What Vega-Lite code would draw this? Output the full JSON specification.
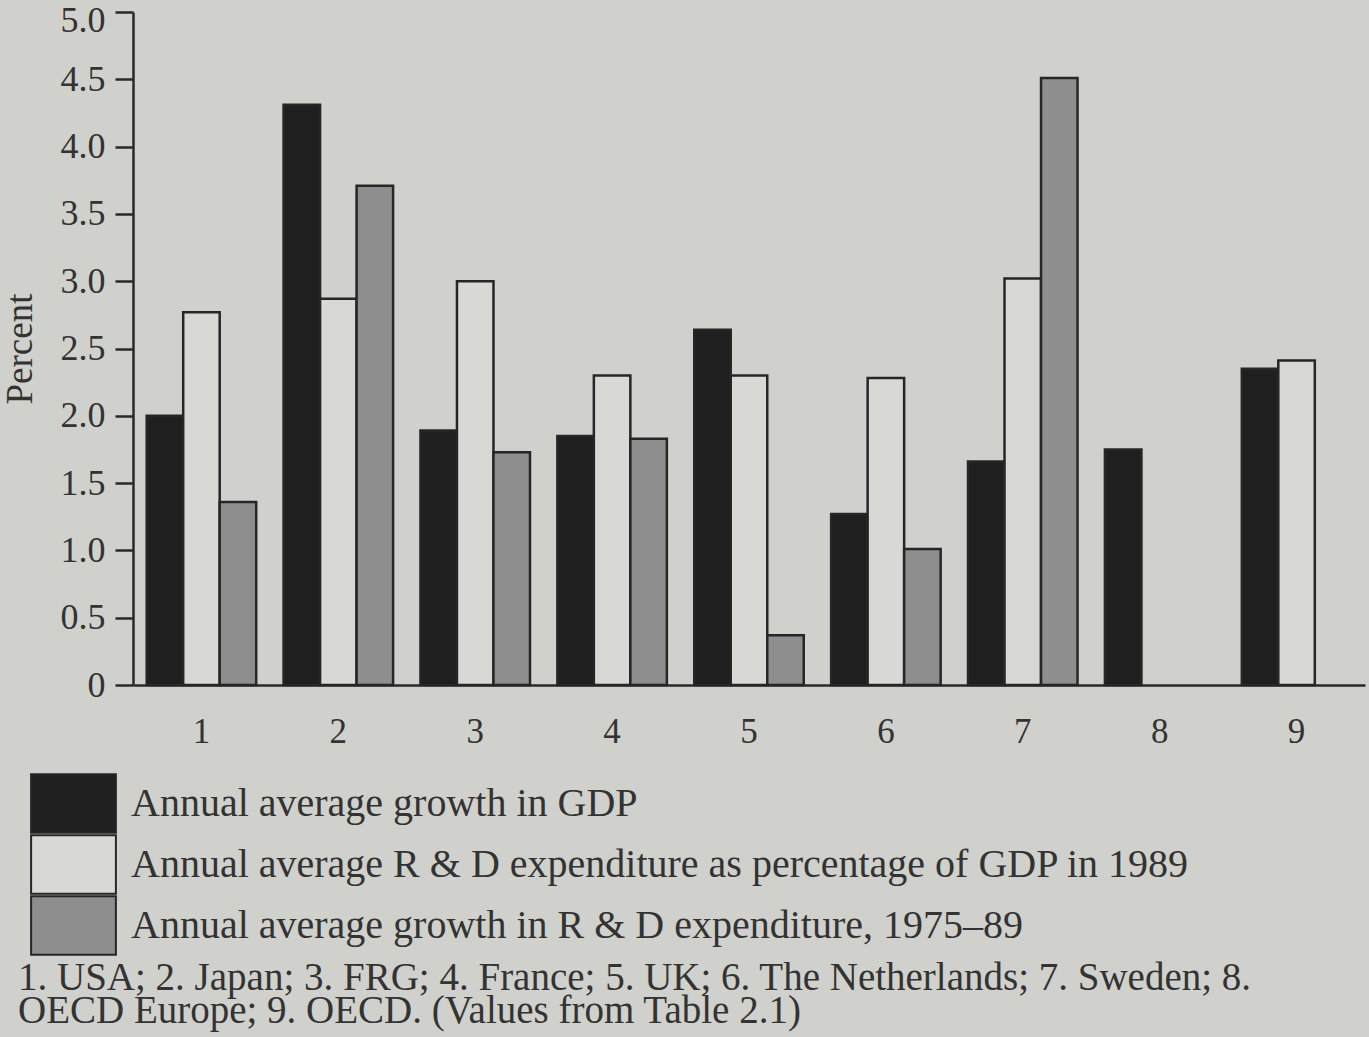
{
  "$schema": "https://vega.github.io/schema/vega-lite/v6.json",
  "width": 1232,
  "height": 673,
  "autosize": {"type": "none"},
  "padding": {"left": 133, "top": 12, "right": 4, "bottom": 352},
  "background": "#d0d1cc",
  "config": {
    "font": "Liberation Serif",
    "view": {"stroke": null},
    "axis": {"labelColor": "#333333", "titleColor": "#333333", "domainColor": "#2a2a2a", "tickColor": "#2a2a2a", "grid": false}
  },
  "title": {
    "text": ["1. USA; 2. Japan; 3. FRG; 4. France; 5. UK; 6. The Netherlands; 7. Sweden; 8.", "OECD Europe; 9. OECD. (Values from Table 2.1)"],
    "orient": "bottom",
    "anchor": "start",
    "frame": "group",
    "dx": -115,
    "offset": 0,
    "fontSize": 39,
    "fontWeight": "normal",
    "lineHeight": 33,
    "color": "#333333",
    "font": "Liberation Serif"
  },
  "data": {
    "values": [
      {"group": "1", "series": "Annual average growth in GDP", "value": 2.0},
      {"group": "1", "series": "Annual average R & D expenditure as percentage of GDP in 1989", "value": 2.77},
      {"group": "1", "series": "Annual average growth in R & D expenditure, 1975–89", "value": 1.36},
      {"group": "2", "series": "Annual average growth in GDP", "value": 4.31},
      {"group": "2", "series": "Annual average R & D expenditure as percentage of GDP in 1989", "value": 2.87},
      {"group": "2", "series": "Annual average growth in R & D expenditure, 1975–89", "value": 3.71},
      {"group": "3", "series": "Annual average growth in GDP", "value": 1.89},
      {"group": "3", "series": "Annual average R & D expenditure as percentage of GDP in 1989", "value": 3.0},
      {"group": "3", "series": "Annual average growth in R & D expenditure, 1975–89", "value": 1.73},
      {"group": "4", "series": "Annual average growth in GDP", "value": 1.85},
      {"group": "4", "series": "Annual average R & D expenditure as percentage of GDP in 1989", "value": 2.3},
      {"group": "4", "series": "Annual average growth in R & D expenditure, 1975–89", "value": 1.83},
      {"group": "5", "series": "Annual average growth in GDP", "value": 2.64},
      {"group": "5", "series": "Annual average R & D expenditure as percentage of GDP in 1989", "value": 2.3},
      {"group": "5", "series": "Annual average growth in R & D expenditure, 1975–89", "value": 0.37},
      {"group": "6", "series": "Annual average growth in GDP", "value": 1.27},
      {"group": "6", "series": "Annual average R & D expenditure as percentage of GDP in 1989", "value": 2.28},
      {"group": "6", "series": "Annual average growth in R & D expenditure, 1975–89", "value": 1.01},
      {"group": "7", "series": "Annual average growth in GDP", "value": 1.66},
      {"group": "7", "series": "Annual average R & D expenditure as percentage of GDP in 1989", "value": 3.02},
      {"group": "7", "series": "Annual average growth in R & D expenditure, 1975–89", "value": 4.51},
      {"group": "8", "series": "Annual average growth in GDP", "value": 1.75},
      {"group": "9", "series": "Annual average growth in GDP", "value": 2.35},
      {"group": "9", "series": "Annual average R & D expenditure as percentage of GDP in 1989", "value": 2.41}
    ]
  },
  "mark": {"type": "bar", "stroke": "#262626", "strokeWidth": 2.5},
  "encoding": {
    "x": {
      "field": "group",
      "type": "nominal",
      "scale": {"paddingInner": 0.2, "paddingOuter": 0.1},
      "axis": {"title": null, "labelAngle": 0, "labelFontSize": 35, "ticks": false, "labelPadding": 29, "domainWidth": 2.5}
    },
    "xOffset": {
      "field": "series",
      "type": "nominal",
      "sort": ["Annual average growth in GDP", "Annual average R & D expenditure as percentage of GDP in 1989", "Annual average growth in R & D expenditure, 1975–89"],
      "scale": {"domain": ["Annual average growth in GDP", "Annual average R & D expenditure as percentage of GDP in 1989", "Annual average growth in R & D expenditure, 1975–89"], "paddingInner": 0, "paddingOuter": 0}
    },
    "y": {
      "field": "value",
      "type": "quantitative",
      "scale": {"domain": [0, 5], "nice": false},
      "axis": {
        "title": "Percent",
        "titleFontSize": 37,
        "titleFontWeight": "normal",
        "titlePadding": 21,
        "values": [0, 0.5, 1, 1.5, 2, 2.5, 3, 3.5, 4, 4.5, 5],
        "labelExpr": "datum.value == 0 ? '0' : format(datum.value, '.1f')",
        "labelFontSize": 36,
        "labelPadding": 10,
        "labelOffset": {"condition": {"test": "datum.value == 5", "value": 8}, "value": 0},
        "tickSize": 18,
        "tickWidth": 2.5,
        "domainWidth": 2.5
      }
    },
    "fill": {
      "field": "series",
      "type": "nominal",
      "scale": {
        "domain": ["Annual average growth in GDP", "Annual average R & D expenditure as percentage of GDP in 1989", "Annual average growth in R & D expenditure, 1975–89"],
        "range": ["#1f1f1f", "#d8d9d5", "#8e8e8e"]
      },
      "legend": {
        "title": null,
        "orient": "none",
        "legendX": -87,
        "legendY": 764,
        "padding": 0,
        "rowPadding": -12,
        "symbolType": "M-1.6,-1.1H1.6V1.1H-1.6Z",
        "symbolSize": 2809,
        "symbolStrokeColor": "#262626",
        "symbolStrokeWidth": 2,
        "symbolOpacity": 1,
        "labelFontSize": 40,
        "labelColor": "#333333",
        "labelOffset": 30,
        "labelLimit": 1200
      }
    }
  }
}
